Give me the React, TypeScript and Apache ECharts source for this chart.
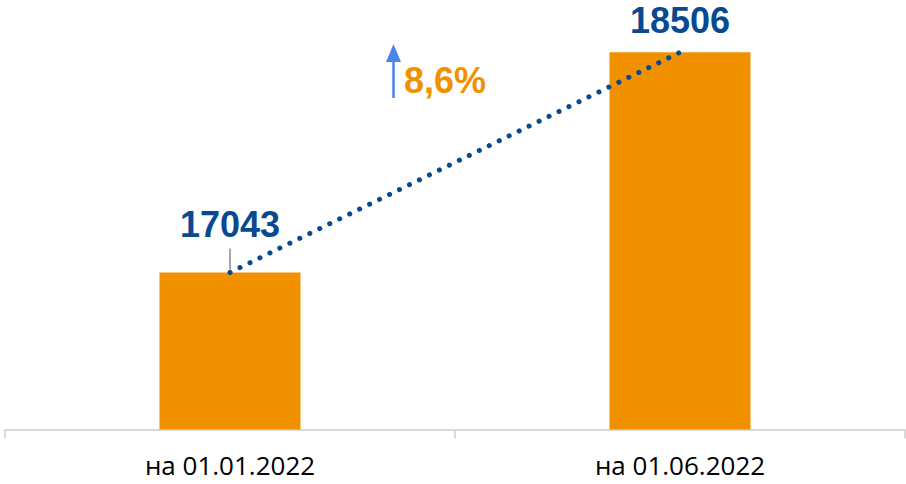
import React, { useEffect, useRef } from "react";
import * as echarts from "echarts";

const categories = ["на 01.01.2022", "на 01.06.2022"];
const values = [17043, 18506];
const labelDistances = [33.5, 17.5];

const ORANGE = "#F29100";
const BLUE = "#084A91";

export default function App() {
  const ref = useRef<HTMLDivElement>(null);
  useEffect(() => {
    document.body.style.margin = "0";
    const chart = echarts.init(ref.current!, null, { renderer: "svg" });
    const growth = ((values[1] / values[0] - 1) * 100).toFixed(1).replace(".", ",") + "%";
    chart.setOption({
      animation: false,
      grid: { left: 5, right: 1, top: 8, bottom: 54.5 },
      xAxis: {
        type: "category",
        data: categories,
        boundaryGap: true,
        axisLine: { lineStyle: { color: "#D9D9D9", width: 2 } },
        axisTick: { show: true, length: 9, lineStyle: { color: "#D9D9D9", width: 2 } },
        axisLabel: { color: "#000", fontSize: 26, fontFamily: "Open Sans", margin: 22 },
      },
      yAxis: { type: "value", min: 16000, max: 18800, show: false, splitLine: { show: false } },
      series: [
        {
          type: "bar",
          barWidth: 141,
          itemStyle: { color: ORANGE },
          data: values.map((v, i) => ({
            value: v,
            label: { distance: labelDistances[i] },
          })),
          label: {
            show: true,
            position: "top",
            color: BLUE,
            fontSize: 36,
            lineHeight: 28,
            fontWeight: "bold",
            fontFamily: "Liberation Sans",
          },
          z: 1,
        },
        {
          type: "line",
          data: values,
          symbol: "none",
          lineStyle: { color: BLUE, width: 5, type: [0.1, 11], cap: "round" },
          z: 3,
        },
      ],
    });
    const p0 = chart.convertToPixel({ gridIndex: 0 }, [0, values[0]]) as number[];
    chart.setOption({
      graphic: [
        {
          type: "line",
          shape: { x1: p0[0], y1: p0[1] - 24, x2: p0[0], y2: p0[1] - 3 },
          style: { stroke: "#A6A6A6", lineWidth: 2 },
          z: 2,
        },
        {
          type: "line",
          shape: { x1: 393.5, y1: 98, x2: 393.5, y2: 60 },
          style: { stroke: "#4A86E8", lineWidth: 2.5 },
        },
        {
          type: "polygon",
          shape: { points: [[386, 62], [401, 62], [393.5, 44]] },
          style: { fill: "#4A86E8" },
        },
        {
          type: "text",
          x: 404,
          y: 80,
          style: {
            text: growth,
            fill: ORANGE,
            font: "bold 36px 'Liberation Sans'",
            verticalAlign: "middle",
            align: "left",
          },
        },
      ],
    });
    return () => chart.dispose();
  }, []);
  return <div ref={ref} style={{ width: 906, height: 484 }} />;
}
